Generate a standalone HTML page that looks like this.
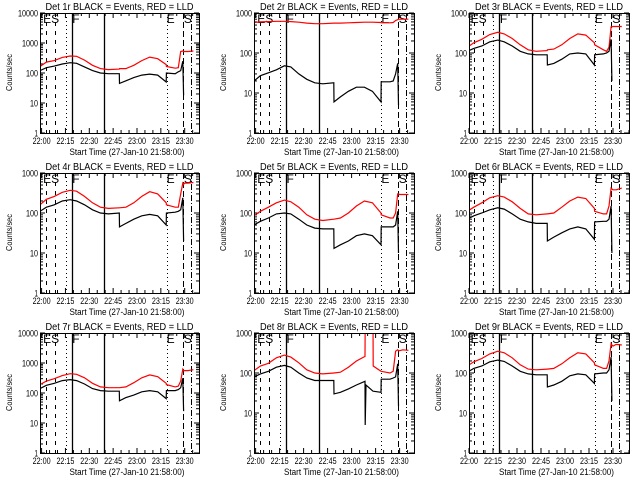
<!DOCTYPE html>
<html><head><meta charset="utf-8">
<style>
html,body{margin:0;padding:0;background:#fff;}
svg{display:block;font-family:"Liberation Sans",sans-serif;}
</style></head>
<body>
<svg id="chart" width="640" height="480" viewBox="0 0 640 480" xmlns="http://www.w3.org/2000/svg"></svg>
<script>
// Shared time grid (minutes after 22:00)
const times = [-1,3,8,13,18,22,27,32,37,42,48.9,49,53,58,63,68,73,78.4,78.5,84,86,87.5,88.8,89.3,90,92,95.5];
const times8 = [-1,3,8,13,18,22,27,32,37,42,48.9,49,53,58,63,68.4,68.5,69,73.4,73.5,78.4,78.5,84,86,87.5,88.8,89.3,90,92,95.5];
const xTickLabels = ["22:00","22:15","22:30","22:45","23:00","23:15","23:30"];
const xTickMinutes = [0,15,30,45,60,75,90];
const detLabels = ["1r","2r","3r","4r","5r","6r","7r","8r","9r"];
const yDecades = [4,3,3,3,3,3,4,3,3];
const red1 = [165,230,260,330,370,360,270,180,140,130,135,140,140,180,260,340,300,190,165,145,150,520,540,520,520,520,540];
const blk1 = [120,150,170,200,220,210,160,120,100,95,95,45,55,70,85,92,85,50,100,95,110,120,250,18];
const red2 = [580,600,610,620,620,610,590,560,540,540,560,560,560,570,580,590,590,580,570,570,580,650,680,700,700,700,700];
const blk2 = [20,27,32,38,48,45,30,22,18,17,18,6,8,11,14,14,11,6,19,19,20,30,55,5];
const red3 = [140,180,220,290,330,300,230,160,120,110,115,120,125,160,230,300,280,180,160,120,110,140,450,450,460,460,460];
const blk3 = [110,130,150,190,210,190,150,110,95,90,90,50,55,70,95,100,95,50,90,95,100,110,220,20];
const red4 = [160,220,260,330,370,350,260,180,140,130,135,135,140,180,260,340,300,180,160,140,140,300,560,520,560,560,580];
const blk4 = [110,140,160,200,215,200,160,120,100,95,100,45,55,70,85,92,85,50,100,105,110,120,240,20];
const red5 = [85,110,140,180,210,190,140,90,70,65,70,70,75,100,150,200,180,100,90,75,75,100,300,300,290,290,290];
const blk5 = [50,62,75,95,100,95,70,50,42,40,40,13,16,20,27,30,27,16,45,45,45,50,110,10];
const red6 = [110,140,180,240,270,250,190,130,95,90,95,95,100,140,200,250,230,130,110,95,95,150,420,400,380,380,420];
const blk6 = [70,85,100,120,135,125,95,70,60,55,55,20,25,32,40,45,40,22,60,62,62,70,150,10];
const red7 = [190,250,300,380,440,420,320,210,160,150,150,150,160,220,320,400,350,210,190,160,170,250,620,560,560,560,600];
const blk7 = [140,180,210,260,280,260,200,140,120,115,115,55,70,85,110,120,110,65,120,120,130,150,310,25];
const red8 = [115,150,175,240,280,250,180,120,100,95,100,100,105,140,200,260,2000,2000,2000,150,110,110,100,110,350,380,360,360,380,370];
const blk8 = [80,95,110,140,155,140,100,75,65,65,65,30,33,40,50,62,5,50,35,35,33,70,70,75,80,170,15];
const red9 = [150,190,230,300,350,320,240,160,125,120,125,125,130,170,240,320,300,180,160,130,130,200,540,500,470,520,500];
const blk9 = [105,130,150,190,210,195,150,110,95,90,90,45,50,62,85,95,90,55,95,100,100,120,250,20];
const eventLines = [2.9,8.5,15.2,19,39.5,78.6,88.9,94];
const eventStyles = ["4,5","4,5","1,3","","","1,3","6,3","6,2,1,2"];
const eventTexts = ["ES","F","E","S"];
const eventTextMin = [1.0,19.3,78.6,89.5];

const reds=[red1,red2,red3,red4,red5,red6,red7,red8,red9];
const blks=[blk1,blk2,blk3,blk4,blk5,blk6,blk7,blk8,blk9];
const svg=document.getElementById('chart');
const NS="http://www.w3.org/2000/svg";
function mk(tag,attrs,parent){const e=document.createElementNS(NS,tag);for(const k in attrs)e.setAttribute(k,attrs[k]);(parent||svg).appendChild(e);return e;}

for(let p=0;p<9;p++){
  const col=p%3,row=Math.floor(p/3);
  const L=[40,254,469][col],R=[199,414,629][col];
  const T=13+row*160,B=133+row*160;
  const xr=col===2?[0,100]:[-1,99];
  const dec=yDecades[p];
  const X=m=>L+(m-xr[0])/(xr[1]-xr[0])*(R-L);
  const Y=v=>B-Math.log10(v)/dec*(B-T);
  const g=mk('g',{});
  
  
  const clipId='clip'+p;
  const cp=mk('clipPath',{id:clipId},g);mk('rect',{x:L,y:T,width:R-L,height:B-T},cp);
  const tt=mk('text',{x:(L+R)/2-74,y:T-3,'font-size':'10',textLength:148,lengthAdjust:'spacingAndGlyphs'},g);
  tt.textContent='Det '+detLabels[p]+' BLACK = Events, RED = LLD';
  
  
  const yt=mk('text',{x:-18,y:0,'font-size':'8',textLength:37,lengthAdjust:'spacingAndGlyphs',transform:`translate(${L-28},${(T+B)/2}) rotate(-90)`},g);
  yt.textContent='Counts/sec';
  
  
  const xt=mk('text',{x:(L+R)/2-50,y:B+22,'font-size':'9',textLength:115,lengthAdjust:'spacingAndGlyphs'},g);
  xt.textContent='Start Time (27-Jan-10 21:58:00)';
  
  
  for(let d=0;d<=dec;d++){
    const y=Y(Math.pow(10,d));
    mk('line',{x1:L,x2:L+5,y1:y,y2:y,stroke:'#000'},g);
    mk('line',{x1:R,x2:R-5,y1:y,y2:y,stroke:'#000'},g);
    const s=String(Math.pow(10,d));
    const w=s.length===1?3.5:s.length*4;
    const lb=mk('text',{x:L-2-w,y:y+3.5,'font-size':'9',textLength:w,lengthAdjust:'spacingAndGlyphs'},g);
    lb.textContent=s;
    
    
    if(d<dec)for(let k=2;k<10;k++){const yy=Y(k*Math.pow(10,d));
      mk('line',{x1:L,x2:L+3,y1:yy,y2:yy,stroke:'#000'},g);
      mk('line',{x1:R,x2:R-3,y1:yy,y2:yy,stroke:'#000'},g);}
  }
  for(let m=0;m<=xr[1];m+=5){const x=X(m);const len=m%15===0?5:3;
    mk('line',{x1:x,x2:x,y1:B,y2:B-len,stroke:'#000'},g);
    mk('line',{x1:x,x2:x,y1:T,y2:T+len,stroke:'#000'},g);}
  xTickMinutes.forEach((m,i)=>{const lb=mk('text',{x:X(m)-9,y:B+11,'font-size':'9',textLength:18,lengthAdjust:'spacingAndGlyphs'},g);
    lb.textContent=xTickLabels[i];
    
    });
  eventLines.forEach((m,i)=>{const x=Math.round(X(m))+0.5;
    const ln=mk('line',{x1:x,x2:x,y1:T,y2:B,stroke:'#000','stroke-width':i===3||i===4?1.3:1},g);
    if(eventStyles[i])ln.setAttribute('stroke-dasharray',eventStyles[i]);
    
    });
  eventTexts.forEach((s,i)=>{const e=mk('text',{x:X(eventTextMin[i]),y:T+10,'font-size':'12'},g);
    e.textContent=s;
    
    });
  const tarr=p===7?times8:times;
  const draw=(vals,color,name)=>{const pts=vals.map((v,i)=>X(tarr[i]).toFixed(1)+','+Y(v).toFixed(1)).join(' ');
    const pl=mk('polyline',{points:pts,fill:'none',stroke:color,'stroke-width':1.2,'clip-path':`url(#${clipId})`},g);
    
    };
  draw(reds[p],'#ff0000','lld-rate-line');
  draw(blks[p],'#000000','events-rate-line');
  const fr=mk('rect',{x:L+0.5,y:T+0.5,width:R-L,height:B-T,fill:'none',stroke:'#000'},g);
  
  
}
</script>
</body></html>
